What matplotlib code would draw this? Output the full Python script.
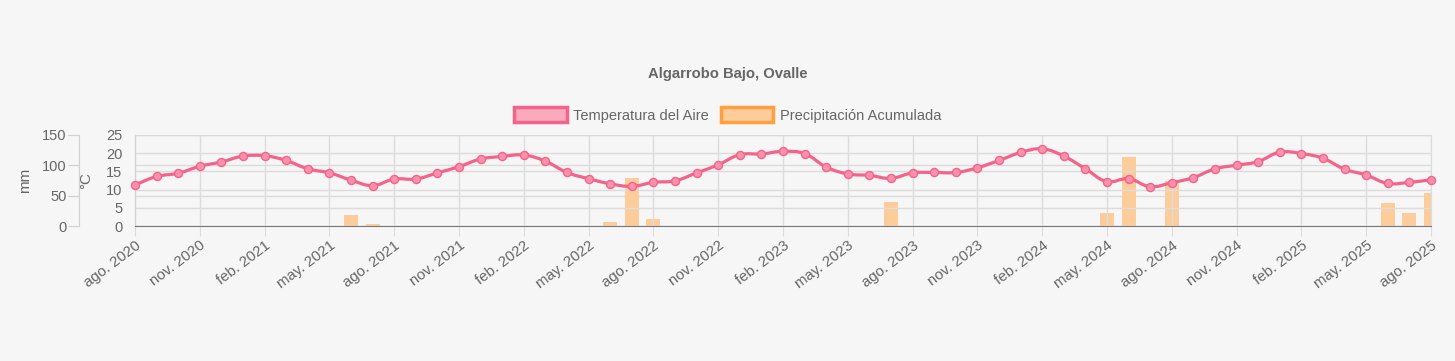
import matplotlib
matplotlib.use("Agg")
import matplotlib.pyplot as plt
from matplotlib.path import Path
from matplotlib.patches import PathPatch, Patch
import numpy as np

# ---------------- data ----------------
month_abbr = ["ene.", "feb.", "mar.", "abr.", "may.", "jun.", "jul.", "ago.", "sep.", "oct.", "nov.", "dic."]
start_year, start_month = 2020, 8  # ago. 2020
n_months = 61

temperature = [11.3, 13.6, 14.5, 16.4, 17.6, 19.2, 19.3, 18.0, 15.7, 14.6, 12.6, 11.1,
               12.9, 12.9, 14.6, 16.3, 18.4, 19.1, 19.5, 17.8, 14.7, 13.0, 11.6, 10.9,
               12.0, 12.4, 14.6, 16.8, 19.6, 19.8, 20.5, 19.9, 16.2, 14.3, 13.9, 13.1,
               14.6, 14.7, 14.7, 16.0, 18.0, 20.2, 21.2, 19.2, 15.7, 12.2, 13.0, 10.8,
               11.9, 13.3, 15.7, 16.7, 17.7, 20.3, 19.9, 18.6, 15.6, 14.0, 11.7, 12.0,
               12.7]
precipitation = [0.5, 0, 0, 0, 0, 0, 0, 0, 0, 0, 17.5, 2.7,
                 0, 0, 0, 0, 0, 0, 0, 0, 0, 0, 6.0, 79.0,
                 12.0, 0, 0, 0, 0, 0, 0, 0, 0, 0, 0, 39.0,
                 0.5, 0, 0, 0.5, 0, 0, 0, 0, 0, 21.0, 114.0, 0.5,
                 75.0, 0, 0, 0, 0, 0, 0, 0, 0, 0, 38.0, 21.0,
                 55.0]

labels = []
for i in range(n_months):
    m = (start_month - 1 + i) % 12
    y = start_year + (start_month - 1 + i) // 12
    labels.append(f"{month_abbr[m]} {y}")
x = np.arange(n_months)

# ---------------- style ----------------
BG = "#f6f6f6"
TXT = "#666666"
GRID = "#dcdcdc"
PINK = "#f4638a"
ORANGE = "#ff9f40"
BARFILL = "#fdcc9b"

plt.rcParams["font.family"] = ["Liberation Sans", "DejaVu Sans"]
W, H = 1455, 361
fig = plt.figure(figsize=(W / 100, H / 100), dpi=100, facecolor=BG)

L, R, T, B = 135, 1431, 135, 226
ax = fig.add_axes([L / W, 1 - B / H, (R - L) / W, (B - T) / H])
ax.set_facecolor(BG)
ax.set_xlim(0, n_months - 1)
ax.set_ylim(0, 25)

ax2 = ax.twinx()
ax2.set_ylim(0, 150)

# bars (precipitation) on mm axis
ax2.bar(x, precipitation, width=0.65, color=BARFILL, edgecolor="none", zorder=1)

# grids
ax.set_yticks(np.arange(0, 26, 5))
ax.grid(axis="y", color=GRID, linewidth=1)
ax.set_xticks(x[::3])
ax.set_xticklabels(labels[::3], rotation=37, ha="right", rotation_mode="anchor",
                   fontsize=10.8, color=TXT)
ax.grid(axis="x", color=GRID, linewidth=1)
ax.tick_params(axis="x", length=7, color=GRID, pad=2)
ax.tick_params(axis="y", length=0, labelsize=10.5, labelcolor=TXT, pad=9)
for ytick in [50, 100]:
    ax2.axhline(ytick, color=GRID, linewidth=1, zorder=0)
ax.set_axisbelow(True)

for s in ["top", "right"]:
    ax.spines[s].set_color(GRID)
ax.spines["left"].set_color("#d0d0d0")
ax.spines["bottom"].set_color("#777777")

# mm axis placed outside to the left
ax2.yaxis.set_ticks_position("left")
ax2.yaxis.set_label_position("left")
ax2.spines["left"].set_position(("axes", -56 / (R - L)))
ax2.spines["left"].set_color("#d0d0d0")
for s in ["top", "right", "bottom"]:
    ax2.spines[s].set_visible(False)
ax2.set_yticks([0, 50, 100, 150])
ax2.tick_params(axis="y", length=8, color="#d0d0d0", labelsize=10.5, labelcolor=TXT, pad=1)

ax2.set_ylabel("mm", color=TXT, fontsize=11)
ax2.yaxis.set_label_coords(-103 / (R - L), 0.5)
ax.set_ylabel("°C", color=TXT, fontsize=11)
ax.yaxis.set_label_coords(-42 / (R - L), 0.5)

# temperature: smooth curve via bezier control points (in pixel space)
ax.set_zorder(ax2.get_zorder() + 1)
ax.patch.set_visible(False)
fig.canvas.draw()
pts = ax.transData.transform(np.column_stack([x, temperature]))
tension = 0.4
verts = [pts[0]]
codes = [Path.MOVETO]
n = len(pts)
ctrl_prev = np.zeros_like(pts)
ctrl_next = np.zeros_like(pts)
for i in range(n):
    p0 = pts[i - 1] if i > 0 else pts[i]
    p1 = pts[i]
    p2 = pts[i + 1] if i < n - 1 else pts[i]
    d01 = np.hypot(*(p1 - p0))
    d12 = np.hypot(*(p2 - p1))
    tot = d01 + d12
    s01 = d01 / tot if tot else 0
    s12 = d12 / tot if tot else 0
    ctrl_prev[i] = p1 - tension * s01 * (p2 - p0)
    ctrl_next[i] = p1 + tension * s12 * (p2 - p0)
for i in range(n - 1):
    verts += [ctrl_next[i], ctrl_prev[i + 1], pts[i + 1]]
    codes += [Path.CURVE4] * 3
inv = ax.transData.inverted()
path = Path(inv.transform(np.array(verts)), codes)
ax.add_patch(PathPatch(path, facecolor="none", edgecolor=PINK, linewidth=2.3, zorder=3,
                       clip_on=False))
ax.plot(x, temperature, linestyle="none", marker="o", markersize=5.8,
        markerfacecolor="#fa91ad", markeredgecolor=PINK, markeredgewidth=1.0,
        zorder=4, clip_on=False)

# title & legend
fig.text(0.5, 1 - 74 / H, "Algarrobo Bajo, Ovalle", ha="center", va="center",
         fontsize=10.7, fontweight="bold", color=TXT)
handles = [Patch(facecolor="#fba9bd", edgecolor=PINK, linewidth=2.5, label="Temperatura del Aire"),
           Patch(facecolor="#fdcc9b", edgecolor=ORANGE, linewidth=2.5, label="Precipitación Acumulada")]
leg = fig.legend(handles=handles, loc="center", bbox_to_anchor=(0.5, 1 - 115 / H), ncol=2,
                 frameon=False, fontsize=10.5, handlelength=3.6, handleheight=1.15,
                 handletextpad=0.45, columnspacing=0.8, labelcolor=TXT)

fig.savefig("out.png", dpi=100, facecolor=BG)
